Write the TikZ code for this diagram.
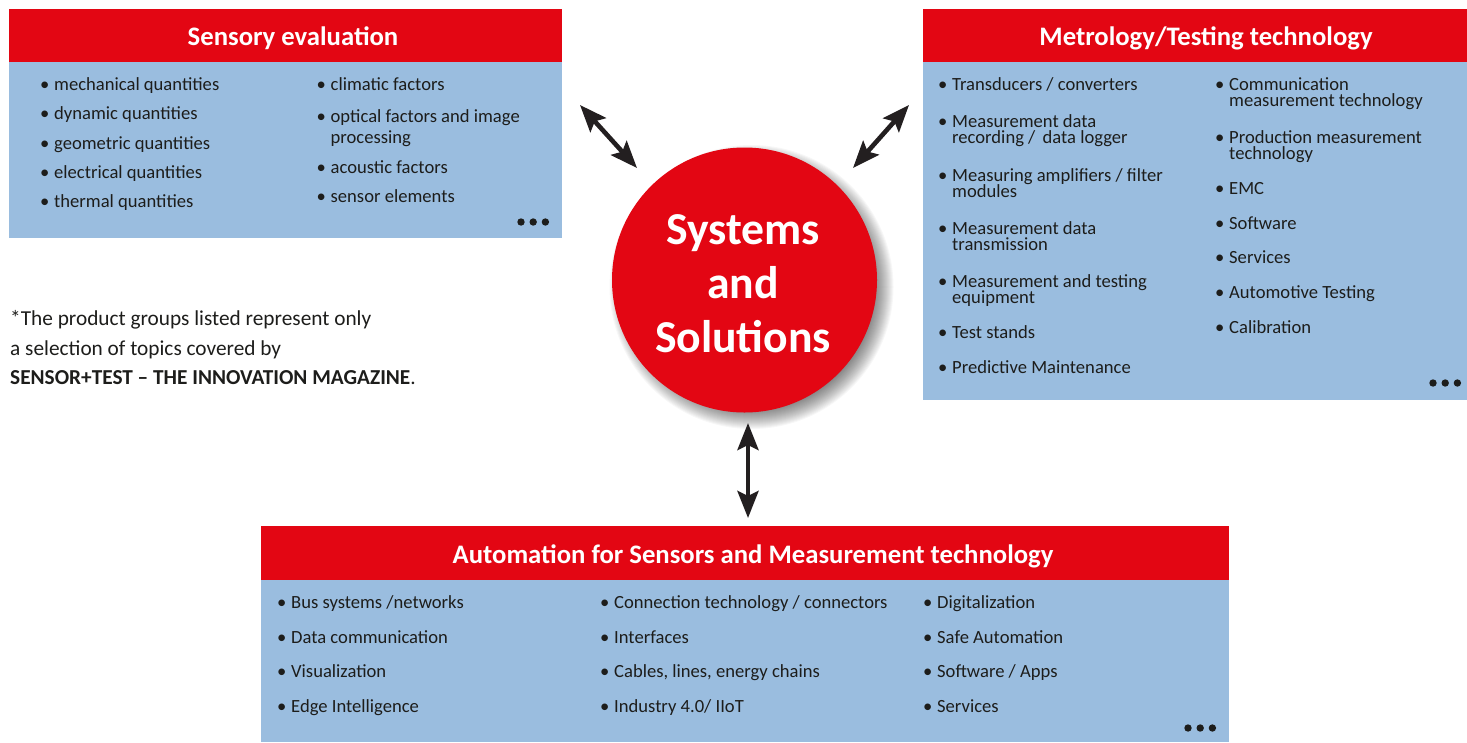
\documentclass[tikz,border=0pt]{standalone}
\usepackage{fontspec}
\setmainfont{Carlito}
\usetikzlibrary{arrows.meta}
\definecolor{hdr}{HTML}{E30613}
\definecolor{bodyblue}{HTML}{9ABDDF}
\definecolor{ink}{HTML}{1D1D1B}
\definecolor{arrowink}{HTML}{231F20}
\tikzset{
  x=1pt,y=-1pt,
  panel/.style={fill=bodyblue,draw=none,anchor=north west,inner sep=0pt,outer sep=0pt},
  header/.style={fill=hdr,draw=none,anchor=north west,inner sep=0pt,outer sep=0pt},
  headtext/.style={text=white,anchor=base,inner sep=0pt,font=\fontsize{26.7}{30}\selectfont\bfseries},
  itemtext/.style={text=ink,anchor=base west,inner sep=0pt,align=left,font=\fontsize{18.6}{16}\selectfont},
  note/.style={text=ink,anchor=base west,inner sep=0pt,font=\fontsize{21.3}{24}\selectfont},
  hub/.style={circle,fill=hdr,draw=none,inner sep=0pt,minimum size=265pt},
  hubtext/.style={text=white,anchor=center,inner sep=0pt,align=center,font=\fontsize{45.7}{54}\selectfont\bfseries},
  link/.style={draw=arrowink,line width=4.6pt,{Stealth[length=27pt,width=21pt,inset=5pt]}-{Stealth[length=27pt,width=21pt,inset=5pt]}},
  dot/.style={circle,fill=ink,draw=none,inner sep=0pt,minimum size=7.4pt}
}
\newcommand{\itm}[4]{\node[itemtext] (#1) at (#2-1,#3) {\makebox[14pt][l]{•}#4};}
\newcommand{\threedots}[3]{\node[dot] (#1a) at (#2,#3) {};\node[dot] (#1b) at (#2+12.2,#3) {};\node[dot] (#1c) at (#2+24.4,#3) {};}
\begin{document}
\begin{tikzpicture}
\useasboundingbox (0,0) rectangle (1467,742);
% panels
\node[panel,minimum width=553pt,minimum height=176pt] (sensbody) at (9,62) {};
\node[header,minimum width=553pt,minimum height=53pt] (senshead) at (9,9) {};
\node[headtext] (senstitle) at (293,45) {Sensory evaluation};
\node[panel,minimum width=544pt,minimum height=338pt] (metbody) at (923,62) {};
\node[header,minimum width=544pt,minimum height=53pt] (methead) at (923,9) {};
\node[headtext] (mettitle) at (1206,45) {Metrology/Testing technology};
\node[panel,minimum width=968pt,minimum height=162pt] (autbody) at (261,580) {};
\node[header,minimum width=968pt,minimum height=54pt] (authead) at (261,526) {};
\node[headtext] (auttitle) at (753,563) {Automation for Sensors and Measurement technology};
% hub with soft shadow
\foreach \r in {142,141,...,122}{
  \fill[black,opacity=.032] (751.5,287) circle (\r pt);
}
\node[hub] (hub) at (744.5,280) {};
\node[hubtext] (hubt) at (743,284) {Systems\\and\\Solutions};
% arrows
\coordinate (aTL) at (580,105);
\coordinate (bTL) at (637,168);
\coordinate (aTR) at (909,105);
\coordinate (bTR) at (853,168);
\coordinate (aB) at (748,423);
\coordinate (bB) at (748,518);
\draw[link] (aTL) -- (bTL);
\draw[link] (aTR) -- (bTR);
\draw[link] (aB) -- (bB);
% sensory items
\itm{s1}{41}{90}{mechanical quantities}
\itm{s2}{41}{119}{dynamic quantities}
\itm{s3}{41}{149}{geometric quantities}
\itm{s4}{41}{178}{electrical quantities}
\itm{s5}{41}{207}{thermal quantities}
\itm{s6}{317.5}{90}{climatic factors}
\itm{s7}{317.5}{122}{optical factors and image}
\node[itemtext] (s7b) at (330.5,143) {processing};
\itm{s8}{317.5}{173}{acoustic factors}
\itm{s9}{317.5}{202}{sensor elements}
\threedots{sd}{521}{222}
% metrology items
\itm{m1}{939}{90}{Transducers / converters}
\itm{m2}{939}{127}{Measurement data}
\node[itemtext] (m2b) at (952,143) {recording /\, data logger};
\itm{m3}{939}{181}{Measuring amplifiers / filter}
\node[itemtext] (m3b) at (952,197) {modules};
\itm{m4}{939}{234}{Measurement data}
\node[itemtext] (m4b) at (952,250) {transmission};
\itm{m5}{939}{287}{Measurement and testing}
\node[itemtext] (m5b) at (952,303) {equipment};
\itm{m6}{939}{338}{Test stands}
\itm{m7}{939}{373}{Predictive Maintenance}
\itm{n1}{1216}{90}{Communication}
\node[itemtext] (n1b) at (1229,106) {measurement technology};
\itm{n2}{1216}{143}{Production measurement}
\node[itemtext] (n2b) at (1229,159) {technology};
\itm{n3}{1216}{194}{EMC}
\itm{n4}{1216}{229}{Software}
\itm{n5}{1216}{263}{Services}
\itm{n6}{1216}{298}{Automotive Testing}
\itm{n7}{1216}{333}{Calibration}
\threedots{md}{1433}{383}
% automation items
\itm{a1}{278}{608}{Bus systems /networks}
\itm{a2}{278}{643}{Data communication}
\itm{a3}{278}{677}{Visualization}
\itm{a4}{278}{712}{Edge Intelligence}
\itm{b1}{601}{608}{Connection technology / connectors}
\itm{b2}{601}{643}{Interfaces}
\itm{b3}{601}{677}{Cables, lines, energy chains}
\itm{b4}{601}{712}{Industry 4.0/ IIoT}
\itm{c1}{924}{608}{Digitalization}
\itm{c2}{924}{643}{Safe Automation}
\itm{c3}{924}{677}{Software / Apps}
\itm{c4}{924}{712}{Services}
\threedots{ad}{1188}{728}
% footnote
\node[note] (f1) at (10,325) {*The product groups listed represent only};
\node[note] (f2) at (10,355) {a selection of topics covered by};
\node[note] (f3) at (10,384) {\textbf{SENSOR+TEST – THE INNOVATION MAGAZINE}.};
\end{tikzpicture}
\end{document}
